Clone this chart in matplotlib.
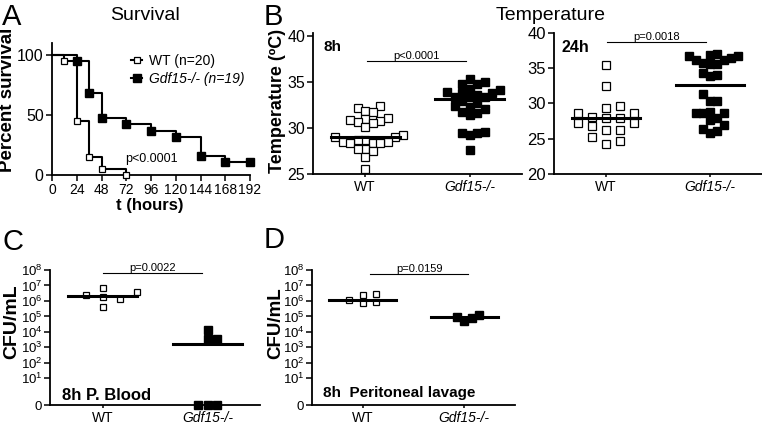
import numpy as np
import matplotlib
matplotlib.use('Agg')
import matplotlib.pyplot as plt
from matplotlib.lines import Line2D
from matplotlib.ticker import NullLocator

plt.rcParams['font.family'] = ['Liberation Sans', 'DejaVu Sans']

# survival (Kaplan-Meier steps, percent)
surv_wt_t = [0, 12, 24, 36, 48, 72]
surv_wt = [100, 95, 45, 15, 5, 0]
surv_ko_t = [0, 24, 36, 48, 72, 96, 120, 144, 168, 192]
surv_ko = [100, 94.7, 68.4, 47.4, 42.1, 36.8, 31.6, 15.8, 10.5, 10.5]

# temperature (C)
temp8_wt = [32.4, 32.2, 31.9, 31.8, 31.1, 31.0, 30.9, 30.8, 30.7, 30.6, 30.1,
            29.2, 29.0, 29.0, 28.7, 28.7, 28.5, 28.5, 28.4, 28.4, 28.4,
            27.7, 27.7, 27.5, 26.8, 25.5]
temp8_ko = [35.3, 35.0, 34.8, 34.8, 34.3, 34.1, 33.9, 33.8, 33.8, 33.6, 33.4,
            33.4, 33.4, 32.9, 32.7, 32.4, 32.3, 32.1, 31.8, 31.6, 31.4,
            29.6, 29.5, 29.5, 29.2, 27.6]
temp24_wt = [35.4, 32.5, 29.6, 29.4, 28.7, 28.7, 28.1, 27.9, 27.9, 27.2, 27.2,
             26.8, 26.3, 26.3, 25.3, 24.7, 24.2]
temp24_ko = [37.0, 36.9, 36.7, 36.7, 36.4, 36.2, 36.1, 35.7, 35.6, 35.6, 34.3,
             34.0, 33.9, 31.3, 30.4, 30.4, 28.8, 28.6, 28.6, 28.6, 28.0,
             27.6, 26.9, 26.4, 26.1, 25.8]

# bacterial load (CFU/mL)
cfu_blood_wt = [7e6, 4e6, 2.5e6, 1.8e6, 1.3e6, 4e5]
cfu_blood_ko = [1.4e4, 3.5e3, 3.5e3, 0, 0, 0]
cfu_lav_wt = [3e6, 2.5e6, 1.1e6, 8.7e5, 7.6e5]
cfu_lav_ko = [1.2e5, 9.8e4, 7.8e4, 5.4e4]

groups = ['WT', 'Gdf15-/-']

W, H = 762, 428


def box(l, t, r, b):
    return [l / W, 1 - b / H, (r - l) / W, (b - t) / H]


def style(ax, fs):
    for s in ['top', 'right']:
        ax.spines[s].set_visible(False)
    for s in ['left', 'bottom']:
        ax.spines[s].set_linewidth(1.3)
    ax.tick_params(width=1.1, length=4, labelsize=fs, pad=2)


def swarm(ax, pos, vals, step, size=8):
    # column-style scatter (Prism like): points go into columns step px apart
    vals = np.asarray(vals, float)
    pts = ax.transData.transform(np.column_stack([np.full(len(vals), pos), vals]))
    ys = pts[:, 1]
    x0 = pts[0, 0]
    unit = ax.transData.transform((pos + 1, vals[0]))[0] - x0
    cands = [0]
    for k in range(1, 30):
        cands += [k, -k]
    placed = []
    offs = np.zeros(len(vals))
    for i in np.argsort(ys, kind='stable'):
        for c in cands:
            if all(c != pc or abs(ys[i] - py) >= size for pc, py in placed):
                offs[i] = c * step
                placed.append((c, ys[i]))
                break
    return pos + offs / unit


def dot_plot(ax, data, steps, ms=5.6):
    for i, vals in enumerate(data):
        xs = swarm(ax, i, vals, steps[i])
        if i == 0:
            ax.plot(xs, vals, 's', mfc='white', mec='black', mew=0.9, ms=ms - 0.4,
                    clip_on=False, zorder=3)
        else:
            ax.plot(xs, vals, 's', color='black', ms=ms, clip_on=False, zorder=3)
        med = np.median(vals)
        ax.plot([i - 0.33, i + 0.33], [med, med], color='black', lw=2.2, zorder=4)
    ax.set_xticks([0, 1])
    ax.set_xticklabels(groups, fontsize=10)
    ax.get_xticklabels()[1].set_style('italic')
    ax.tick_params(axis='x', length=2.5)


def pbar(ax, x1, x2, y, text):
    ax.plot([x1, x2], [y, y], color='black', lw=0.8, clip_on=False)
    ax.text((x1 + x2) / 2, y, text, ha='center', va='bottom', fontsize=8)


fig = plt.figure(figsize=(W / 100, H / 100), dpi=100)

# ---- A: survival
ax = fig.add_axes(box(52, 43, 250, 175))
style(ax, 11.5)
ax.plot(surv_wt_t, surv_wt, drawstyle='steps-post', color='black', lw=1.5, clip_on=False)
ax.plot(surv_ko_t, surv_ko, drawstyle='steps-post', color='black', lw=1.5, clip_on=False)
ax.plot(surv_wt_t[1:], surv_wt[1:], 's', mfc='white', mec='black', mew=0.9, ms=5,
        clip_on=False, zorder=3)
ax.plot(surv_ko_t[1:], surv_ko[1:], 's', color='black', ms=5.2, clip_on=False, zorder=3)
ax.set_xlim(0, 192)
ax.set_ylim(0, 110)
ax.set_xticks(range(0, 193, 24))
ax.set_yticks([0, 50, 100])
ax.tick_params(axis='x', labelsize=10)
ax.text(96, 10.5, 'p<0.0001', ha='center', va='baseline', fontsize=9)
handles = [Line2D([], [], color='black', lw=1.5, marker='s', mfc='white', mec='black', mew=0.9, ms=5),
           Line2D([], [], color='black', lw=1.5, marker='s', ms=5.2)]
leg = ax.legend(handles, ['WT (n=20)', 'Gdf15-/- (n=19)'], loc='upper left',
                bbox_to_anchor=(131 / W, 1 - 54 / H), bbox_transform=fig.transFigure,
                frameon=False, fontsize=10, handlelength=0.8, handletextpad=0.5,
                labelspacing=0.3, borderpad=0, borderaxespad=0)
leg.get_texts()[1].set_style('italic')
fig.text(145 / W, 1 - 20 / H, 'Survival', ha='center', va='baseline', fontsize=14)
fig.text(8 / W, 1 - 100 / H, 'Percent survival', rotation=90, ha='center', va='center',
         fontsize=13.5, fontweight='bold')
fig.text(150 / W, 1 - 210 / H, 't (hours)', ha='center', va='baseline', fontsize=12,
         fontweight='bold')

# ---- B: temperature 8h
ax = fig.add_axes(box(313, 33, 522, 174))
style(ax, 11.5)
ax.tick_params(axis='y', pad=1.5)
ax.set_xlim(-0.5, 1.5)
ax.set_ylim(25, 40.35)
ax.set_yticks([25, 30, 35, 40])
dot_plot(ax, [temp8_wt, temp8_ko], [7.5, 7.5])
pbar(ax, 0.02, 0.96, 37.3, 'p<0.0001')
ax.text(0.048, 0.875, '8h', transform=ax.transAxes, fontsize=11, fontweight='bold',
        va='baseline')

# ---- B: temperature 24h
ax = fig.add_axes(box(554, 33, 762, 174))
style(ax, 12)
ax.set_xlim(-0.5, 1.5)
ax.set_ylim(20, 40)
ax.set_yticks([20, 25, 30, 35, 40])
dot_plot(ax, [temp24_wt, temp24_ko], [14, 7])
pbar(ax, 0.01, 0.96, 38.7, 'p=0.0018')
ax.text(0.038, 0.865, '24h', transform=ax.transAxes, fontsize=11.5, fontweight='bold',
        va='baseline')

fig.text(551 / W, 1 - 20 / H, 'Temperature', ha='center', va='baseline', fontsize=14)
fig.text(278 / W, 1 - 101 / H, 'Temperature (ºC)', rotation=90, ha='center', va='center',
         fontsize=13, fontweight='bold')

# ---- C / D: CFU
cfu_ticks = [0] + [10.0 ** k for k in range(1, 9)]
cfu_labels = ['0'] + [r'$\mathregular{10^{%d}}$' % k for k in range(1, 9)]


def cfu_axes(rect):
    ax = fig.add_axes(rect)
    style(ax, 9.5)
    ax.tick_params(axis='y', pad=1.5)
    ax.set_xlim(-0.5, 1.5)
    ax.set_yscale('symlog', linthresh=10, linscale=1.55)
    ax.set_ylim(0, 1e8)
    ax.set_yticks(cfu_ticks)
    ax.set_yticklabels(cfu_labels)
    ax.yaxis.set_minor_locator(NullLocator())
    return ax


ax = cfu_axes(box(50, 270, 260, 405))
dot_plot(ax, [cfu_blood_wt, cfu_blood_ko], [17, 9.5], ms=5.2)
pbar(ax, 0.005, 0.95, 6.3e7, 'p=0.0022')
ax.text(0.057, 0.04, '8h P. Blood', transform=ax.transAxes, fontsize=12,
        fontweight='bold', va='baseline')
fig.text(12 / W, 1 - 322 / H, 'CFU/mL', rotation=90, ha='center', va='center',
         fontsize=14, fontweight='bold')

ax = cfu_axes(box(312, 270, 515, 405))
dot_plot(ax, [cfu_lav_wt, cfu_lav_ko], [13.5, 7.5], ms=5.2)
pbar(ax, 0.07, 1.04, 5.5e7, 'p=0.0159')
ax.text(0.054, 0.06, '8h  Peritoneal lavage', transform=ax.transAxes, fontsize=11,
        fontweight='bold', va='baseline')
fig.text(276 / W, 1 - 323 / H, 'CFU/mL', rotation=90, ha='center', va='center',
         fontsize=13.5, fontweight='bold')

# panel letters
for letter, x, y in [('A', 2, 25), ('B', 264, 25), ('C', 2, 250), ('D', 264, 248)]:
    fig.text(x / W, 1 - y / H, letter, fontsize=21, va='baseline')

fig.savefig('out.png', dpi=100)
